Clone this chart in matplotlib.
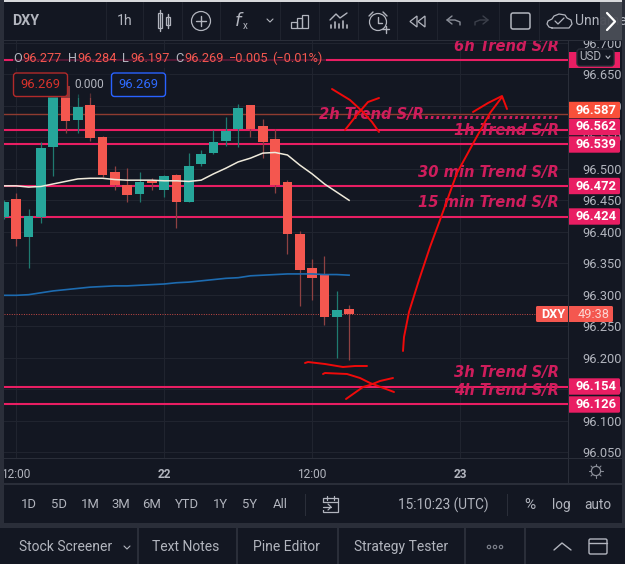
import numpy as np
import matplotlib
matplotlib.use("Agg")
import matplotlib.pyplot as plt
from matplotlib.patches import Rectangle, FancyBboxPatch, Circle, Polygon

W, H = 625, 564

BG = "#131722"
PANEL_GAP = "#2a2e39"
GRID = "#20242f"
UP = "#26a69a"
DOWN = "#f4574f"
UP_WICK = "#1f7a70"
DOWN_WICK = "#8e4142"
PINK = "#e91e63"
TEXT_PINK = "#cf1d5c"
UI_TEXT = "#b2b5be"
PEN = "#f00a0a"

# hourly candles, first one is cut by the left edge
bar_index = list(range(-1, 28))
opens = [96.423, 96.452, 96.392, 96.424, 96.535, 96.632, 96.578, 96.601, 96.551, 96.495,
         96.475, 96.460, 96.481, 96.467, 96.491, 96.448, 96.508, 96.525, 96.544, 96.563,
         96.601, 96.568, 96.548, 96.479, 96.397, 96.343, 96.332, 96.264, 96.277]
highs = [96.450, 96.461, 96.436, 96.543, 96.625, 96.635, 96.619, 96.620, 96.552, 96.505,
         96.502, 96.495, 96.485, 96.490, 96.492, 96.525, 96.530, 96.562, 96.582, 96.603,
         96.601, 96.579, 96.563, 96.482, 96.401, 96.356, 96.362, 96.306, 96.284]
lows = [96.420, 96.378, 96.343, 96.414, 96.489, 96.557, 96.557, 96.545, 96.487, 96.466,
        96.448, 96.448, 96.466, 96.456, 96.406, 96.448, 96.505, 96.523, 96.537, 96.534,
        96.550, 96.518, 96.461, 96.364, 96.282, 96.291, 96.252, 96.200, 96.197]
closes = [96.447, 96.388, 96.425, 96.533, 96.617, 96.576, 96.598, 96.549, 96.491, 96.474,
          96.459, 96.479, 96.478, 96.489, 96.448, 96.505, 96.523, 96.542, 96.560, 96.597,
          96.564, 96.543, 96.474, 96.397, 96.340, 96.327, 96.265, 96.275, 96.269]

ma_fast = [96.473, 96.473, 96.471, 96.472, 96.476, 96.480, 96.484, 96.485, 96.485, 96.483,
           96.482, 96.482, 96.482, 96.481, 96.481, 96.480, 96.482, 96.492, 96.501, 96.511,
           96.517, 96.525, 96.526, 96.522, 96.506, 96.492, 96.476, 96.463, 96.450]
ma_slow = [96.299, 96.299, 96.300, 96.303, 96.306, 96.308, 96.310, 96.312, 96.313, 96.314,
           96.314, 96.315, 96.316, 96.317, 96.319, 96.320, 96.322, 96.324, 96.326, 96.327,
           96.330, 96.331, 96.332, 96.333, 96.333, 96.333, 96.332, 96.332, 96.331]

price_ticks = [96.05, 96.10, 96.15, 96.20, 96.25, 96.30, 96.35, 96.40, 96.45, 96.50,
               96.55, 96.60, 96.65, 96.70]
time_ticks = [0, 12, 24, 36]
time_labels = ["12:00", "22", "12:00", "23"]

trend_levels = [96.673, 96.562, 96.539, 96.472, 96.424, 96.154, 96.126]
level_2h = 96.587
last_price = 96.269

# level labels on the price scale: value, box centre y
scale_labels = [("96.587", 110, "#f9503a"), ("96.562", 127, PINK), ("96.539", 144.5, PINK),
                ("96.472", 186, PINK), ("96.424", 216.5, PINK), ("96.154", 386.5, PINK),
                ("96.126", 404.5, PINK)]

notes = [("6h Trend S/R", 46), ("2h Trend S/R........................", 115),
         ("1h Trend S/R", 130), ("30 min Trend S/R", 172), ("15 min Trend S/R", 202),
         ("3h Trend S/R", 372), ("4h Trend S/R", 390)]

# freehand pen strokes, in figure pixels
pen_strokes = [
    [(403, 351), (404, 337), (409, 312), (419, 280), (430, 247), (440, 220), (457, 173),
     (475, 140), (490, 113), (502, 97)],
    [(473, 112), (488, 103), (502, 96), (507, 109)],
    [(332, 89), (350, 100), (363, 112), (372, 122), (379, 132)],
    [(379, 98), (368, 102), (356, 116), (345, 130)],
    [(305, 363), (308, 362), (325, 364), (343, 367), (355, 366), (367, 366)],
    [(323, 374), (325, 373), (347, 374), (360, 378), (370, 383), (394, 392)],
    [(346, 399), (363, 387), (370, 385), (380, 381), (393, 378)],
]

fig = plt.figure(figsize=(W / 100, H / 100), dpi=100, facecolor=BG)

# chart pane, left/bottom/width/height from pixels
left, right, top, bottom = 4, 568, 41, 458
ax = fig.add_axes([left / W, 1 - bottom / H, (right - left) / W, (bottom - top) / H])
ax.set_facecolor(BG)
ax.set_xlim((left - 16.2) / 12.33, (right - 16.2) / 12.33)
ax.set_ylim(96.05 - (bottom - 452) / 629, 96.70 + (43 - top) / 629)
for side in ax.spines.values():
    side.set_visible(False)

ax.yaxis.tick_right()
ax.set_yticks(price_ticks)
ax.set_yticklabels([f"{p:.3f}" for p in price_ticks], family="Roboto", fontsize=9.2)
ax.set_xticks(time_ticks)
ax.set_xticklabels(time_labels, family="Roboto", fontsize=8.6)
for lab, name in zip(ax.get_xticklabels(), time_labels):
    if ":" not in name:
        lab.set_fontweight("bold")
ax.tick_params(axis="y", length=0, pad=10, labelcolor=UI_TEXT)
ax.tick_params(axis="x", length=0, pad=7, labelcolor=UI_TEXT)
ax.grid(True, color=GRID, linewidth=0.8)
ax.set_axisbelow(True)

# trend levels
for level in trend_levels:
    ax.axhline(level, color=PINK, linewidth=1.5, zorder=2)
ax.axhline(level_2h, color="#8f3b30", linewidth=1.0, zorder=2)
ax.axhline(last_price, color=DOWN, linewidth=0.7, linestyle=(0, (1, 1.5)), alpha=0.8, zorder=2)

# candles
for i, o, h, l, c in zip(bar_index, opens, highs, lows, closes):
    body = UP if c >= o else DOWN
    wick = UP_WICK if c >= o else DOWN_WICK
    ax.vlines(i, l, h, color=wick, linewidth=0.9, zorder=3)
    ax.bar(i, abs(c - o), bottom=min(o, c), width=0.77, color=body, zorder=4)

ax.plot(bar_index, ma_fast, color="#efeadb", linewidth=1.1, zorder=5)
ax.plot(bar_index, ma_slow, color="#1d6bb0", linewidth=1.2, zorder=5)

# everything else sits on a pixel-coordinate overlay
ui = fig.add_axes([0, 0, 1, 1], zorder=10)
ui.set_xlim(0, W)
ui.set_ylim(H, 0)
ui.axis("off")


def label(x, y, s, color=UI_TEXT, size=9.6, ha="center", weight="normal", z=8, **kw):
    kw.setdefault("family", "Roboto")
    return ui.text(x, y, s, color=color, fontsize=size, ha=ha, va="center",
                   fontweight=weight, zorder=z, **kw)


def rect(x0, y0, x1, y1, color, z=6, alpha=None):
    ui.add_patch(Rectangle((x0, y0), x1 - x0, y1 - y0, facecolor=color, edgecolor="none",
                           zorder=z, alpha=alpha))


def rbox(x0, y0, x1, y1, face, edge="none", z=5, lw=1.0, r=2):
    ui.add_patch(FancyBboxPatch((x0, y0), x1 - x0, y1 - y0,
                                boxstyle=f"round,pad=0,rounding_size={r}",
                                facecolor=face, edgecolor=edge, linewidth=lw, zorder=z))


def stroke(xs, ys, color=UI_TEXT, lw=1.0, z=8):
    ui.plot(xs, ys, color=color, linewidth=lw, zorder=z, solid_capstyle="round")


def outline(x0, y0, x1, y1, color=UI_TEXT, lw=0.9, z=8):
    ui.add_patch(Rectangle((x0, y0), x1 - x0, y1 - y0, facecolor="none", edgecolor=color,
                           linewidth=lw, zorder=z))


# dimmed area behind the symbol legend
rect(13, 51, 326, 68, BG, z=1, alpha=0.72)
rect(13, 71, 170, 98, BG, z=1, alpha=0.45)

# OHLC legend
legend_parts = [(13, "O", UI_TEXT), (22, "96.277", DOWN), (68, "H", UI_TEXT), (77, "96.284", DOWN),
                (122, "L", UI_TEXT), (130, "96.197", DOWN), (175, "C", UI_TEXT),
                (184, "96.269", DOWN), (229, "\u22120.005", DOWN), (272, "(\u22120.01%)", DOWN)]
for x, s, col in legend_parts:
    label(x, 58, s, color=col, size=9.2, ha="left", z=2)
rbox(13.5, 73, 67.5, 96.5, BG, edge="#b22a2a", z=2, r=3)
label(40.5, 84.5, "96.269", color="#d8322c", size=9.4, z=3)
label(89, 84, "0.000", color=UI_TEXT, size=8.6, z=3)
rbox(111.5, 73, 165.5, 96.5, BG, edge="#2962ff", z=2, r=3)
label(138.5, 84.5, "96.269", color="#2f6bff", size=9.4, z=3)

# hand-typed level names
for s, y in notes:
    ui.text(559, y, s, color=TEXT_PINK, fontsize=10.6, ha="right", va="center",
            family="DejaVu Sans", style="oblique", fontweight="bold", zorder=3)

for path in pen_strokes:
    pts = np.array(path)
    ui.plot(pts[:, 0], pts[:, 1], color=PEN, linewidth=1.4, zorder=4,
            solid_capstyle="round", solid_joinstyle="round")

# price scale labels
rect(568, 52, 620, 68, PINK, z=5)
for s, y, col in scale_labels:
    rbox(568, y - 8.2, 620, y + 8.2, col, z=5, r=1.5)
    label(596, y, s, color="white", size=9.4, weight="bold", z=6)
rbox(577, 49, 614, 66, BG, edge="#2a2e39", z=6, r=3)
label(590, 57, "USD", color=UI_TEXT, size=8.4, z=7)
stroke([606, 608, 610], [56, 58.5, 56], lw=0.8, z=7)

# last price flag
rbox(536, 306, 613, 322, DOWN, z=5, r=1.5)
label(541, 314.5, "DXY", color="white", size=9.2, ha="left", weight="bold", z=6)
label(578, 314.5, "49:38", color="#fbd5d2", size=9.2, ha="left", z=6)

# frame and toolbar
rect(0, 0, W, 2, "#d8d9dc", z=6)
rect(0, 2, W, 40, BG, z=5)
rect(0, 0, 4, 528, PANEL_GAP, z=6)
rect(622, 0, W, 528, PANEL_GAP, z=6)
rect(4, 40, 622, 41, PANEL_GAP, z=6)
rect(568, 41, 569, 484, PANEL_GAP, z=6)
rect(4, 458, 622, 459, PANEL_GAP, z=6)
rect(4, 483, 622, 485, PANEL_GAP, z=6)
rect(0, 523, W, 528, PANEL_GAP, z=6)
rect(4, 528, 622, H, BG, z=5)

for x in [106, 143, 182, 220, 280, 319, 358, 397, 437, 499, 539]:
    rect(x, 2, x + 1, 40, "#1f232e", z=6)

label(26, 21, "DXY", size=10.2, weight="bold")
label(125, 21, "1h", size=10.2)

# chart type icon
outline(157.5, 13, 162, 28)
stroke([159.7, 159.7], [10, 31])
outline(165.5, 17, 170, 25)
stroke([167.7, 167.7], [14, 28])

# add button
ui.add_patch(Circle((201, 21), 9.5, facecolor="none", edgecolor=UI_TEXT, linewidth=0.9, zorder=8))
stroke([196, 206], [21, 21])
stroke([201, 201], [16, 26])

label(238, 21, "f", size=13, family="DejaVu Sans", style="italic")
label(245, 26, "x", size=7)
stroke([267, 270, 273], [19, 22, 19], lw=0.8)

# template icon
outline(291, 22, 297, 28)
outline(297, 18, 302, 28)
outline(302, 15, 308, 28)

# indicators icon
for x, y0 in zip([331, 335, 339, 343, 347], [25, 22, 24, 21, 25]):
    stroke([x, x], [y0, 28], lw=1.2)
stroke([330, 336, 340, 347], [20, 14, 18, 13])

# alert icon
ui.add_patch(Circle((378, 22), 8.5, facecolor="none", edgecolor=UI_TEXT, linewidth=0.9, zorder=8))
stroke([378, 378, 382], [17, 23, 23])
stroke([369, 373], [16, 12])
stroke([383, 387], [12, 16])
rect(381, 25, 390, 33, BG, z=7)
stroke([382, 389], [29, 29])
stroke([385.5, 385.5], [25.5, 32.5])

# replay icon
ui.add_patch(Polygon([(417, 16), (410, 21.5), (417, 27)], closed=True, facecolor="none",
                     edgecolor=UI_TEXT, linewidth=0.9, zorder=8))
ui.add_patch(Polygon([(425, 16), (418, 21.5), (425, 27)], closed=True, facecolor="none",
                     edgecolor=UI_TEXT, linewidth=0.9, zorder=8))

# undo / redo
stroke([452, 447, 452], [16, 20, 24], color="#8a8e98")
stroke([447, 455, 460, 460], [20, 20, 22, 25], color="#8a8e98")
stroke([483, 488, 483], [16, 20, 24], color="#3c404b")
stroke([488, 480, 475, 475], [20, 20, 22, 25], color="#3c404b")

rbox(511, 13, 530, 29, "none", edge=UI_TEXT, z=8, r=2, lw=1.1)

# cloud icon
stroke([552, 549, 547, 548, 552, 554, 559, 565, 567, 571, 572, 569, 552],
       [28, 27, 24, 21, 19, 16, 14, 15, 18, 20, 24, 28, 28], lw=0.9)
stroke([555, 558, 564], [21, 24, 18], lw=0.9)
label(575, 21, "Unnamed", size=10, ha="left", clip_on=True)
rect(600, 2, 622, 40, "#4b4e57", z=8, alpha=0.95)
stroke([607, 615, 607], [13, 21.5, 30], color="white", lw=1.6, z=9)

# scale settings icon
ui.add_patch(Circle((596, 471), 4.6, facecolor="none", edgecolor="#8a8e98", linewidth=0.9, zorder=8))
for a in np.arange(0, 360, 45):
    dx, dy = np.cos(np.radians(a)), np.sin(np.radians(a))
    stroke([596 + 4.6 * dx, 596 + 7 * dx], [471 + 4.6 * dy, 471 + 7 * dy], color="#8a8e98", lw=0.8)

# range bar
for x, s in zip([29, 59, 90, 121, 152, 187, 220, 250, 280],
                ["1D", "5D", "1M", "3M", "6M", "YTD", "1Y", "5Y", "All"]):
    label(x, 505, s, size=9.4)
rect(305, 494, 306, 516, "#2a2e39", z=7)
outline(323, 498, 338, 512, lw=0.9)
rect(321, 503, 330, 510, BG, z=8)
stroke([323, 338], [502, 502], z=9, lw=0.9)
stroke([327, 327], [496, 500], z=9, lw=0.9)
stroke([334, 334], [496, 500], z=9, lw=0.9)
stroke([323, 331], [507, 507], z=9, lw=0.9)
stroke([328, 331, 328], [504, 507, 510], z=9, lw=0.9)
label(443, 505, "15:10:23 (UTC)", size=9.8)
rect(507, 494, 508, 516, "#2a2e39", z=7)
label(530, 505, "%", size=11)
label(561, 505, "log", size=9.8)
label(598, 505, "auto", size=9.8)

# bottom tabs
for x in [137, 236, 337, 464, 524]:
    rect(x, 528, x + 1.5, H, PANEL_GAP, z=7)
label(66, 547, "Stock Screener", size=10)
stroke([124, 127, 130], [546, 549, 546], lw=0.8)
label(186, 547, "Text Notes", size=10)
label(286, 547, "Pine Editor", size=10)
label(401, 547, "Strategy Tester", size=10)
for x in [489, 495, 501]:
    ui.add_patch(Circle((x, 547), 1.7, facecolor="none", edgecolor="#80848e", linewidth=0.8, zorder=8))
stroke([554, 562, 571], [550, 543, 550], lw=1.0)
rbox(589, 539, 607, 554, "none", edge=UI_TEXT, z=8, r=1.5, lw=1.0)
stroke([589, 607], [543, 543], lw=1.0)

fig.savefig("out.png", dpi=100, facecolor=BG)
plt.close(fig)
